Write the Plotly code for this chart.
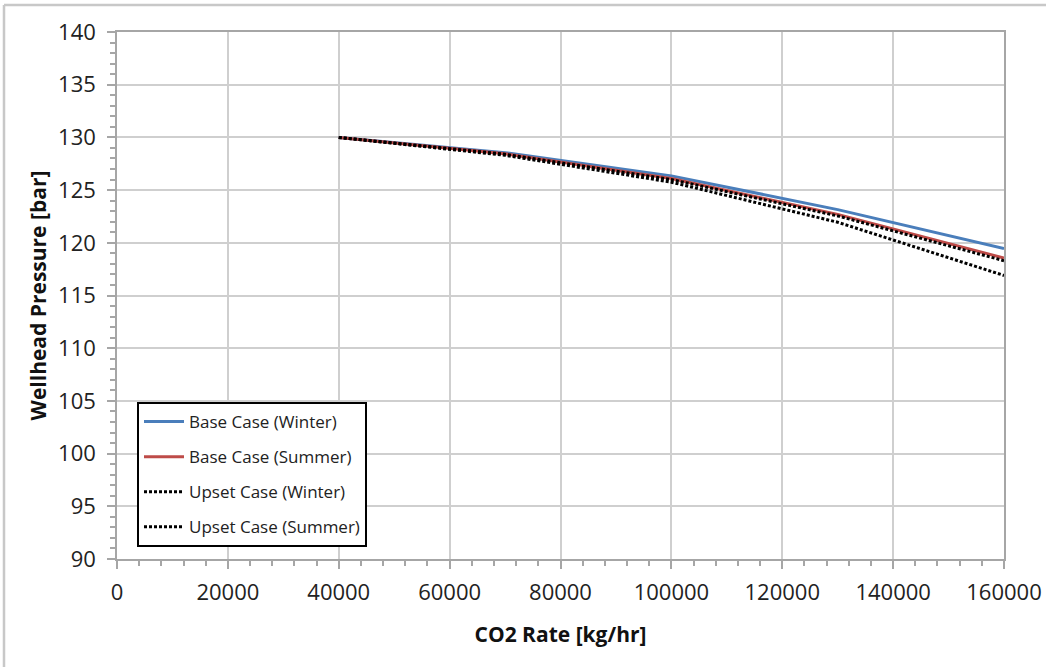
import plotly.graph_objects as go

co2_rate = [40000, 70000, 100000, 130000, 160000]
base_winter = [130.0, 128.55, 126.35, 123.15, 119.45]
base_summer = [130.0, 128.45, 126.1, 122.7, 118.55]
upset_winter = [130.0, 128.4, 126.0, 122.55, 118.3]
upset_summer = [130.0, 128.3, 125.75, 121.95, 116.9]

names = ["Base Case (Winter)", "Base Case (Summer)", "Upset Case (Winter)", "Upset Case (Summer)"]

FONT = "Open Sans, sans-serif"

fig = go.Figure()
fig.add_trace(go.Scatter(x=co2_rate, y=base_winter, mode="lines", name=names[0],
                         line=dict(color="#4a7ebb", width=3), legendgroup="a"))
fig.add_trace(go.Scatter(x=co2_rate, y=base_summer, mode="lines", name=names[1],
                         line=dict(color="#be4b48", width=3), legendgroup="b"))
fig.add_trace(go.Scatter(x=co2_rate, y=upset_winter, mode="lines", name=names[2],
                         line=dict(color="#000000", width=3, dash="3px,2px"), legendgroup="c"))
fig.add_trace(go.Scatter(x=co2_rate, y=upset_summer, mode="lines", name=names[3],
                         line=dict(color="#000000", width=3, dash="3px,2px"), legendgroup="d"))

L, R, T, B = 117, 1004, 32, 559
W, H = 1046, 667
def px(x):
    return (x - L) / (R - L)
def py(y):
    return (B - y) / (B - T)

axis_common = dict(showline=True, mirror=True, linecolor="#a6a6a6", linewidth=1.5,
                   showgrid=True, gridcolor="#cfcfcf", gridwidth=1.5,
                   ticks="outside", ticklen=8, tickcolor="#a6a6a6", tickwidth=1.5,
                   zeroline=False, automargin=False,
                   tickfont=dict(family=FONT, size=22, color="#222222"))

fig.update_xaxes(range=[0, 160000], dtick=20000, tick0=0, ticklabelstandoff=5,
                 minor=dict(dtick=4000, ticks="outside", ticklen=5, tickcolor="#a6a6a6", showgrid=False),
                 title=dict(text="<b>CO2 Rate [kg/hr]</b>", font=dict(family=FONT, size=21, color="#111111"), standoff=22),
                 tickformat="d", **axis_common)
fig.update_yaxes(range=[90, 140], dtick=5, tick0=90, ticklabelstandoff=7,
                 minor=dict(dtick=1, ticks="outside", ticklen=5, tickcolor="#a6a6a6", showgrid=False),
                 title=dict(text="<b>Wellhead Pressure [bar]</b>", font=dict(family=FONT, size=21, color="#111111"), standoff=6),
                 **axis_common)

fig.update_layout(
    width=W, height=H,
    margin=dict(l=L, r=W - R, t=T, b=H - B),
    paper_bgcolor="white", plot_bgcolor="white",
    legend=dict(x=px(137), y=py(402), xanchor="left", yanchor="top",
                bordercolor="#000000", borderwidth=2, bgcolor="white",
                font=dict(family=FONT, size=17, color="#222222"),
                tracegroupgap=10, itemwidth=40),
    shapes=[
        dict(type="line", xref="paper", yref="paper", x0=px(4), x1=px(W + 5), y0=py(5), y1=py(5),
             line=dict(color="#c8c8c8", width=2.5)),
        dict(type="line", xref="paper", yref="paper", x0=px(4), x1=px(4), y0=py(5), y1=py(H + 5),
             line=dict(color="#c8c8c8", width=2.5)),
    ],
)

fig.write_html("out.html")
